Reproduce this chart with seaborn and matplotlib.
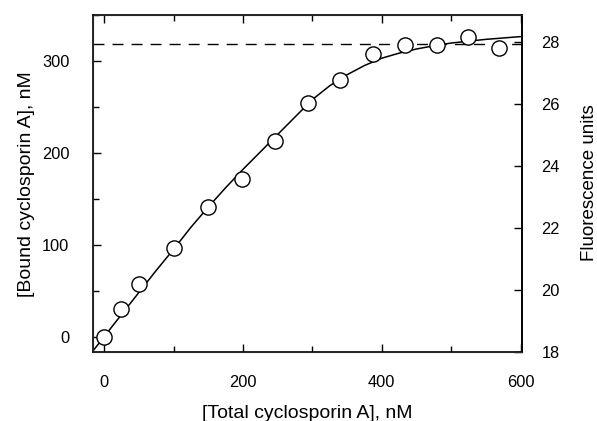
import numpy as np
import pandas as pd
import matplotlib
matplotlib.use("Agg")
import matplotlib.pyplot as plt
from matplotlib.ticker import MultipleLocator
import seaborn as sns

# ---- data ----
total_nM = [0, 25, 50, 100, 150, 198, 246, 293, 340, 387, 433, 479, 524, 569]
bound_nM = [0, 30, 57, 97, 141, 172, 213, 254, 279, 308, 317, 317, 326, 314]

# fitted curve, read at 25 nM steps
fit_total = [-16, 0, 25, 50, 75, 100, 125, 150, 175, 200, 225, 250, 275, 300,
             325, 350, 375, 400, 425, 450, 475, 500, 525, 550, 575, 600]
fit_bound = [-15.5, 0, 24, 48, 72, 95, 119, 141, 162, 182, 201, 220, 239, 258,
             273, 285, 295, 303, 308.5, 313, 316.5, 319.5, 321.5, 323.5, 325, 326.5]

plateau_nM = 318.5

xlim = (-16, 602)
ylim_bound = (-17, 350)
ylim_fluor = (17.98, 28.86)
fluor_ticks = [18, 20, 22, 24, 26, 28]

pts = pd.DataFrame({"total": total_nM, "bound": bound_nM})
fit = pd.DataFrame({"total": fit_total, "bound": fit_bound})

sns.set_style("ticks")
plt.rcParams["font.family"] = ["Liberation Sans", "DejaVu Sans"]
plt.rcParams["text.color"] = "black"
plt.rcParams["axes.labelcolor"] = "black"
plt.rcParams["xtick.color"] = "black"
plt.rcParams["ytick.color"] = "black"

fig = plt.figure(figsize=(5.97, 4.21), dpi=100)
ax = fig.add_axes([93 / 597, 1 - 352.3 / 421, (522 - 93) / 597, (352.3 - 15) / 421])

# plateau (dashed) and fit line
ax.axhline(plateau_nM, color="black", lw=1.0, linestyle=(0, (7.9, 5.8)), zorder=1)
sns.lineplot(data=fit, x="total", y="bound", ax=ax, color="black", lw=1.1,
             sort=False, zorder=2)
sns.scatterplot(data=pts, x="total", y="bound", ax=ax, marker="o", s=120,
                facecolor="white", edgecolor="black", linewidth=1.0, zorder=3)

ax.set_xlim(*xlim)
ax.set_ylim(*ylim_bound)
ax.xaxis.set_major_locator(MultipleLocator(200))
ax.xaxis.set_minor_locator(MultipleLocator(100))
ax.yaxis.set_major_locator(MultipleLocator(100))
ax.yaxis.set_minor_locator(MultipleLocator(50))
ax.tick_params(axis="x", which="both", direction="in", top=True, labelsize=11.8, pad=16.5)
ax.tick_params(axis="y", which="both", direction="in", labelsize=11.8, pad=17)
ax.tick_params(which="major", length=6, width=1.0)
ax.tick_params(which="minor", length=4, width=1.0)

ax.set_xlabel("[Total cyclosporin A], nM", fontsize=14, labelpad=11)
ax.set_ylabel("[Bound cyclosporin A], nM", fontsize=14, labelpad=5)

for sp in ax.spines.values():
    sp.set_linewidth(1.2)
    sp.set_color("black")

# right axis: fluorescence
ax2 = ax.twinx()
ax2.set_ylim(*ylim_fluor)
ax2.set_yticks(fluor_ticks)
ax2.tick_params(axis="y", direction="in", length=6, width=1.0, labelsize=11.8, pad=14)
ax2.spines["right"].set_linewidth(1.2)
ax2.spines["right"].set_color("black")
fig.text(590 / 597, 1 - 183 / 421, "Fluorescence units", rotation=90,
         ha="center", va="center", fontsize=13.5)

fig.savefig("out.png", dpi=100)
